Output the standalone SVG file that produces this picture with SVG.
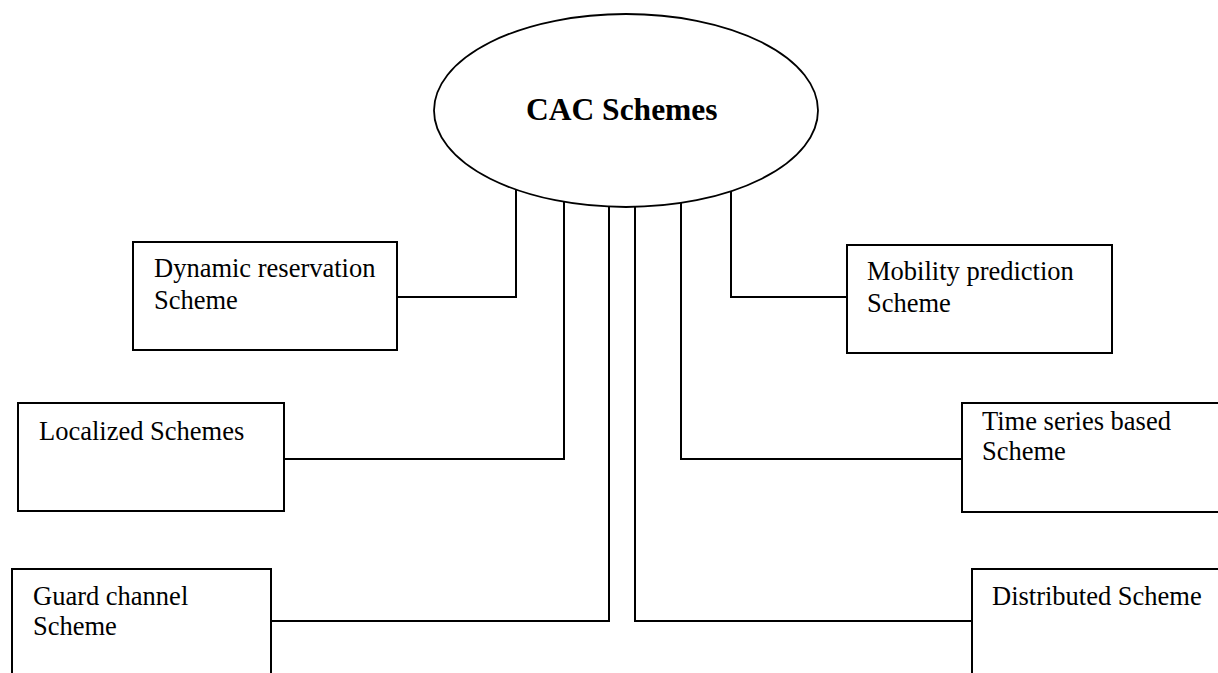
<svg xmlns="http://www.w3.org/2000/svg" width="1218" height="673" viewBox="0 0 1218 673">
<style>
.box{fill:#fff;stroke:#000;stroke-width:2}
.lbl{font-family:"Liberation Serif","Times New Roman",serif;font-size:26.5px;fill:#000}
.title{font-family:"Liberation Serif","Times New Roman",serif;font-size:31.5px;font-weight:bold;fill:#000}
.conn{fill:none;stroke:#000;stroke-width:2}
</style>
<rect width="1218" height="673" fill="#fff"/>
<g id="connectors">
<path class="conn" d="M516 189.6 V297 H397"/>
<path class="conn" d="M564 201.8 V459 H284"/>
<path class="conn" d="M609 206.6 V621 H271"/>
<path class="conn" d="M635 206.4 V621 H972"/>
<path class="conn" d="M681 202.9 V459 H962"/>
<path class="conn" d="M731 191.3 V297 H847"/>
</g>
<g id="cac">
<ellipse cx="626" cy="110.5" rx="192" ry="96.5" fill="#fff" stroke="#000" stroke-width="1.8"/>
<text class="title" x="526" y="120">CAC Schemes</text>
</g>
<g id="dynamic">
<rect class="box" x="133" y="242" width="264" height="108"/>
<text class="lbl" x="154" y="277">Dynamic reservation</text>
<text class="lbl" x="154" y="309">Scheme</text>
</g>
<g id="mobility">
<rect class="box" x="847" y="245" width="265" height="108"/>
<text class="lbl" x="867" y="280">Mobility prediction</text>
<text class="lbl" x="867" y="312">Scheme</text>
</g>
<g id="localized">
<rect class="box" x="18" y="403" width="266" height="108"/>
<text class="lbl" x="39" y="440">Localized Schemes</text>
</g>
<g id="timeseries">
<rect class="box" x="962" y="403" width="270" height="109"/>
<text class="lbl" x="982" y="430">Time series based</text>
<text class="lbl" x="982" y="460">Scheme</text>
</g>
<g id="guard">
<rect class="box" x="12" y="569" width="259" height="120"/>
<text class="lbl" x="33" y="605">Guard channel</text>
<text class="lbl" x="33" y="635">Scheme</text>
</g>
<g id="distributed">
<rect class="box" x="972" y="569" width="260" height="120"/>
<text class="lbl" x="992" y="605">Distributed Scheme</text>
</g>
</svg>
